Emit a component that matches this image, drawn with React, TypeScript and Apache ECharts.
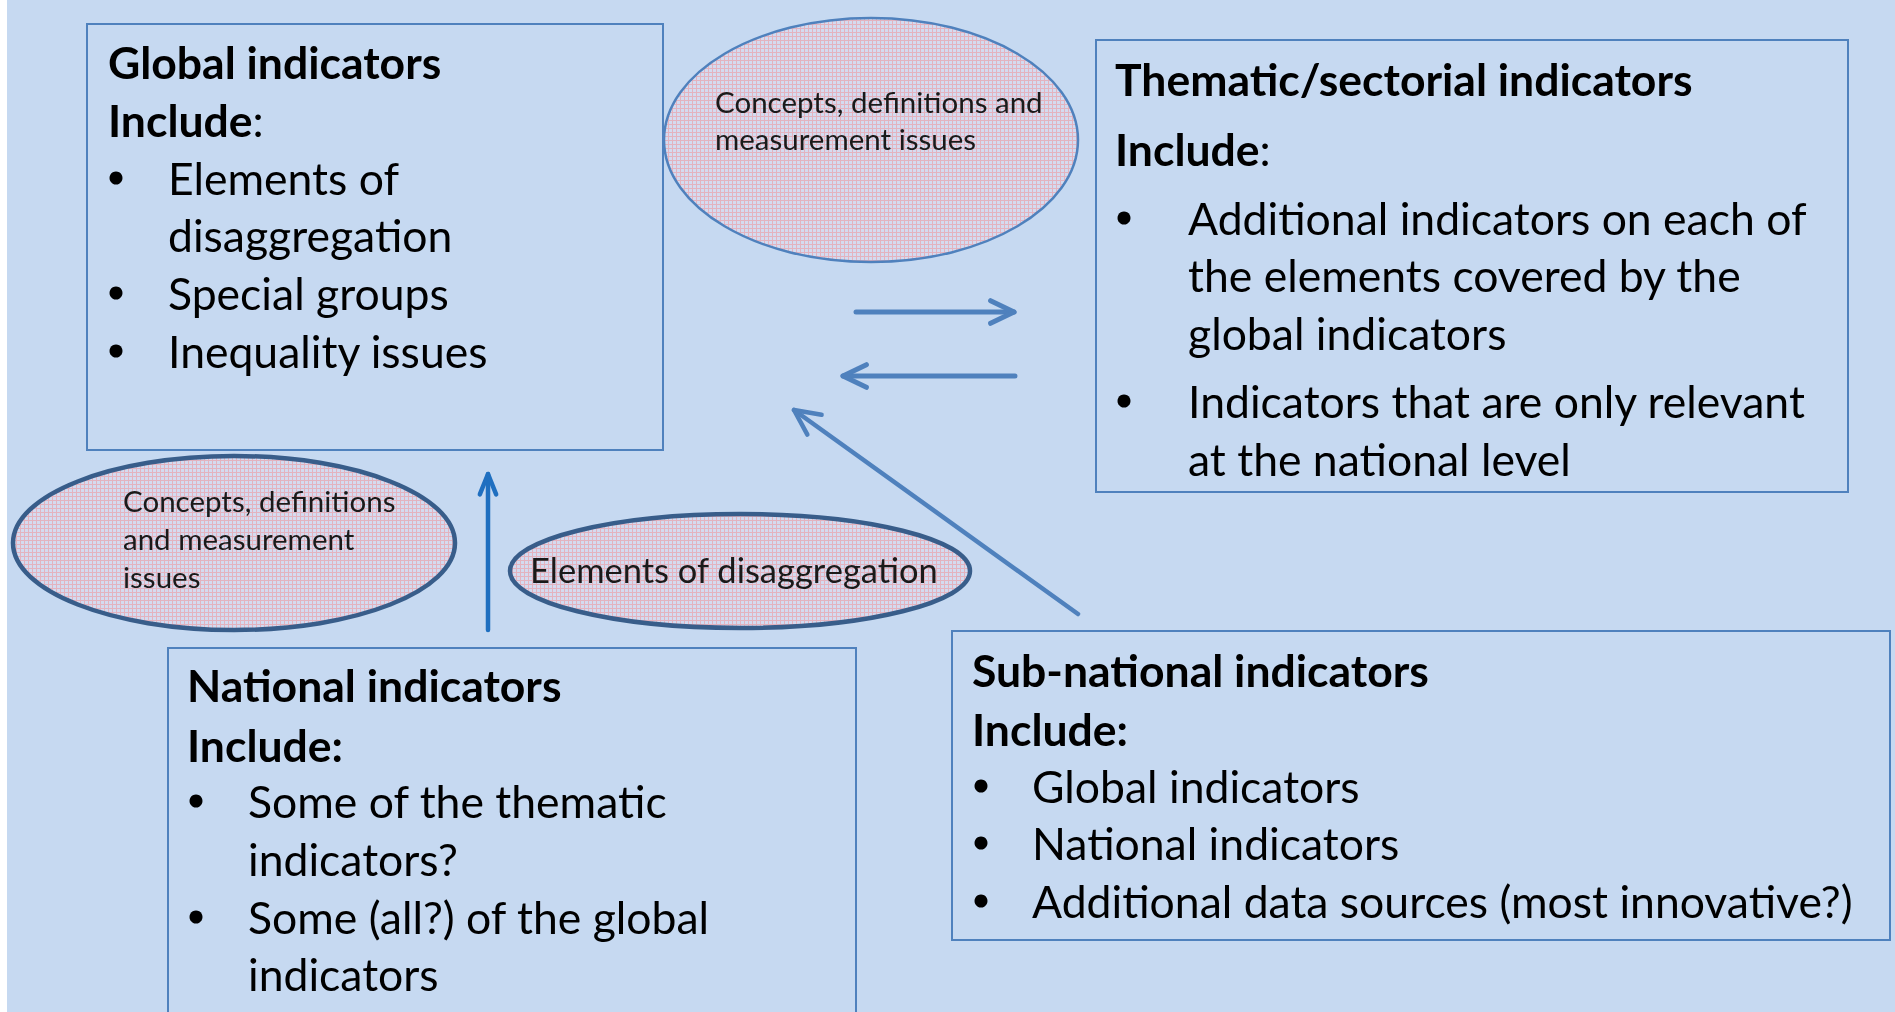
import React, { useEffect, useRef } from "react";
import * as echarts from "echarts";

// ---- content ----
const GLOBAL_TITLE = "Global indicators";
const GLOBAL_ITEMS = [["Elements of", "disaggregation"], ["Special groups"], ["Inequality issues"]];
const THEMATIC_TITLE = "Thematic/sectorial indicators";
const THEMATIC_ITEMS = [
  ["Additional indicators on each of", "the elements covered by the", "global indicators"],
  ["Indicators that are only relevant", "at the national level"],
];
const NATIONAL_TITLE = "National indicators";
const NATIONAL_ITEMS = [["Some of the thematic", "indicators?"], ["Some (all?) of the global", "indicators"]];
const SUBNATIONAL_TITLE = "Sub-national indicators";
const SUBNATIONAL_ITEMS = [["Global indicators"], ["National indicators"], ["Additional data sources (most innovative?)"]];
const TOP_ELLIPSE_LINES = ["Concepts, definitions and", "measurement issues"];
const LEFT_ELLIPSE_LINES = ["Concepts, definitions", "and measurement", "issues"];
const BOTTOM_ELLIPSE_LINES = ["Elements of disaggregation"];

const FONT = "Lato, 'Noto Sans', sans-serif";
const BOX_FS = 44.5;
const BORDER = "#4F81BD";
const DY = -2;

function makePattern(): string {
  const c = document.createElement("canvas");
  c.width = 4;
  c.height = 4;
  const ctx = c.getContext("2d")!;
  ctx.fillStyle = "#d4dbf0";
  ctx.fillRect(0, 0, 4, 4);
  ctx.fillStyle = "#e3b3bf";
  ctx.fillRect(0, 0, 4, 1);
  ctx.fillRect(0, 0, 1, 4);
  return c.toDataURL();
}

type BoxSpec = {
  rect: [number, number, number, number];
  title: string;
  includeBoldColon: boolean;
  items: string[][];
  xTitle: number;
  xBullet: number;
  xText: number;
  ys: number[];
};

function buildBox(b: BoxSpec): any[] {
  const els: any[] = [];
  els.push({
    type: "rect",
    shape: { x: b.rect[0], y: b.rect[1], width: b.rect[2], height: b.rect[3] },
    style: { fill: "none", stroke: BORDER, lineWidth: 2 },
  });
  els.push({
    type: "text",
    x: b.xTitle,
    y: b.ys[0] + DY,
    style: { text: b.title, font: `bold ${BOX_FS}px ${FONT}`, fill: "#000", verticalAlign: "middle", align: "left" },
  });
  els.push({
    type: "text",
    x: b.xTitle,
    y: b.ys[1] + DY,
    style: {
      text: b.includeBoldColon ? "{b|Include:}" : "{b|Include}{r|:}",
      verticalAlign: "middle",
      align: "left",
      rich: {
        b: { font: `bold ${BOX_FS}px ${FONT}`, fill: "#000" },
        r: { font: `${BOX_FS}px ${FONT}`, fill: "#000" },
      },
    },
  });
  let li = 2;
  b.items.forEach((item) => {
    els.push({ type: "circle", shape: { cx: b.xBullet, cy: b.ys[li] + 1 + DY, r: 6.5 }, style: { fill: "#000" } });
    item.forEach((line) => {
      els.push({
        type: "text",
        x: b.xText,
        y: b.ys[li] + DY,
        style: { text: line, font: `${BOX_FS}px ${FONT}`, fill: "#000", verticalAlign: "middle", align: "left" },
      });
      li++;
    });
  });
  return els;
}

function ellipse(cx: number, cy: number, rx: number, ry: number, pattern: string, stroke: string, lw: number) {
  return {
    type: "ellipse",
    shape: { cx, cy, rx, ry },
    style: { fill: { image: pattern, repeat: "repeat" }, stroke, lineWidth: lw },
  };
}

function ellipseText(lines: string[], x: number, ys: number[], fs: number) {
  return lines.map((t, i) => ({
    type: "text",
    x,
    y: ys[i] + DY,
    style: { text: t, font: `${fs}px ${FONT}`, fill: "#1a1a1a", verticalAlign: "middle", align: "left" },
  }));
}

function arrow(x1: number, y1: number, x2: number, y2: number, color: string, lw: number, head: number, spread: number) {
  const ang = Math.atan2(y2 - y1, x2 - x1);
  const a1 = ang + Math.PI - spread;
  const a2 = ang + Math.PI + spread;
  return [
    { type: "line", shape: { x1, y1, x2, y2 }, style: { stroke: color, lineWidth: lw, lineCap: "round" } },
    {
      type: "polyline",
      shape: {
        points: [
          [x2 + head * Math.cos(a1), y2 + head * Math.sin(a1)],
          [x2, y2],
          [x2 + head * Math.cos(a2), y2 + head * Math.sin(a2)],
        ],
      },
      style: { stroke: color, lineWidth: lw, lineCap: "round", lineJoin: "round", fill: "none" },
    },
  ];
}

export default function App() {
  const ref = useRef<HTMLDivElement>(null);
  useEffect(() => {
    if (!ref.current) return;
    const chart = echarts.init(ref.current, null, { renderer: "svg" });
    const pattern = makePattern();
    const elements: any[] = [];
    elements.push({ type: "rect", shape: { x: 0, y: 0, width: 1895, height: 1012 }, style: { fill: "#C6D9F1" } });
    elements.push({ type: "rect", shape: { x: 0, y: 0, width: 7, height: 1012 }, style: { fill: "#ffffff" } });

    elements.push(
      ...buildBox({
        rect: [87, 24, 576, 426],
        title: GLOBAL_TITLE,
        includeBoldColon: false,
        items: GLOBAL_ITEMS,
        xTitle: 108,
        xBullet: 116,
        xText: 168,
        ys: [63, 121, 179, 236, 294, 352],
      })
    );
    elements.push(
      ...buildBox({
        rect: [1096, 40, 752, 452],
        title: THEMATIC_TITLE,
        includeBoldColon: false,
        items: THEMATIC_ITEMS,
        xTitle: 1115,
        xBullet: 1124,
        xText: 1188,
        ys: [80, 150, 219, 276, 334, 402, 460],
      })
    );
    elements.push(
      ...buildBox({
        rect: [168, 648, 688, 400],
        title: NATIONAL_TITLE,
        includeBoldColon: true,
        items: NATIONAL_ITEMS,
        xTitle: 187,
        xBullet: 196,
        xText: 248,
        ys: [686, 746, 802, 860, 918, 975],
      })
    );
    elements.push(
      ...buildBox({
        rect: [952, 631, 938, 309],
        title: SUBNATIONAL_TITLE,
        includeBoldColon: true,
        items: SUBNATIONAL_ITEMS,
        xTitle: 972,
        xBullet: 981,
        xText: 1032,
        ys: [671, 730, 787, 844, 902],
      })
    );

    // ellipses
    elements.push(ellipse(871, 140, 207, 122, pattern, BORDER, 2.5));
    elements.push(...ellipseText(TOP_ELLIPSE_LINES, 715, [103, 140], 29.5));
    elements.push(ellipse(234, 543, 221, 87, pattern, "#385D8A", 4.5));
    elements.push(...ellipseText(LEFT_ELLIPSE_LINES, 123, [502, 540, 578], 29.5));
    elements.push(ellipse(740, 571, 230, 57, pattern, "#385D8A", 4.5));
    elements.push(...ellipseText(BOTTOM_ELLIPSE_LINES, 530, [571], 34.5));

    // arrows
    elements.push(...arrow(856, 312, 1014, 312, BORDER, 5, 26, 0.45));
    elements.push(...arrow(1015, 376, 843, 376, BORDER, 5, 26, 0.45));
    elements.push(...arrow(1078, 614, 794, 410, BORDER, 4.5, 28, 0.45));
    elements.push(...arrow(488, 630, 488, 474, "#1F6FC0", 4.5, 22, 0.38));

    chart.setOption({ animation: false, graphic: { elements } });
    return () => chart.dispose();
  }, []);
  return <div ref={ref} style={{ position: "fixed", left: 0, top: 0, width: 1895, height: 1012 }} />;
}
